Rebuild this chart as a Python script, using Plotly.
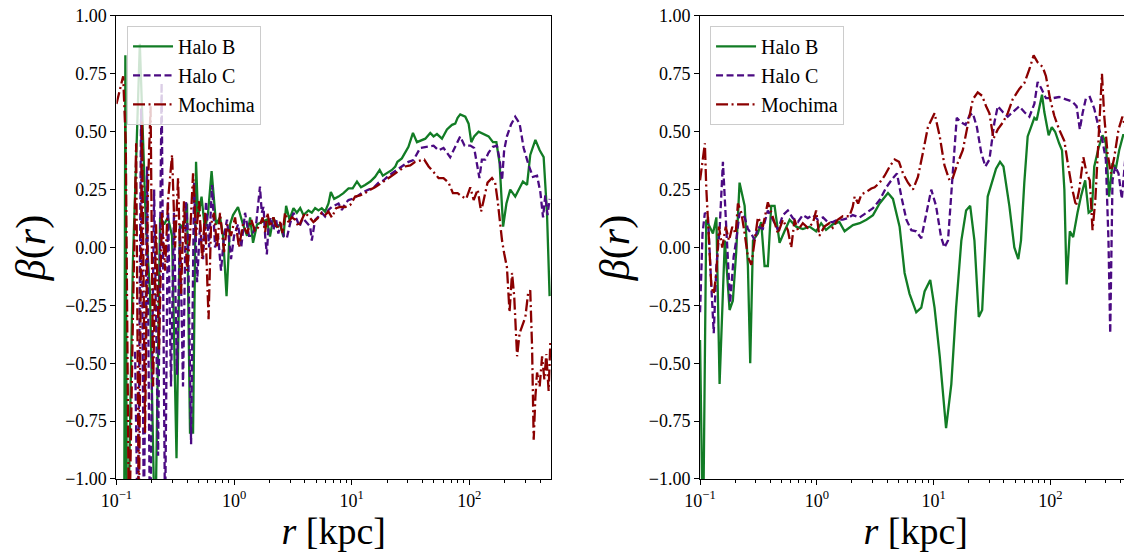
import plotly.graph_objects as go

# ---------------- left panel ----------------
left_b_r = [0.100, 0.116, 0.119, 0.123, 0.138, 0.158, 0.178, 0.193, 0.213, 0.235, 0.254, 0.274,
            0.297, 0.324, 0.347, 0.368, 0.398, 0.422, 0.448, 0.475, 0.494, 0.529, 0.566, 0.601,
            0.644, 0.703, 0.760, 0.806, 0.863, 0.924, 0.980, 1.08, 1.19, 1.29, 1.37, 1.45, 1.57,
            1.90, 2.02, 2.16, 2.31, 2.46, 2.63, 2.77, 2.96, 3.20, 3.42, 3.65, 3.89, 4.29, 4.58,
            4.89, 5.22, 5.57, 5.94, 6.35, 6.65, 7.10, 7.73, 8.51, 9.40, 10.2, 11.1, 12.0, 13.0,
            14.4, 15.8, 17.3, 18.4, 19.9, 22.0, 23.5, 24.5, 26.7, 28.5, 30.4, 33.2, 35.9,
            42.3, 46.6, 49.7, 53.1, 58.6, 64.6, 71.3, 76.0, 79.6, 83.8, 92.5, 98.7, 104, 110,
            120, 132, 146, 159, 170, 181, 194, 207, 223, 246, 263, 286, 310, 330, 365, 397,
            429, 458, 482]
left_b_beta = [-1.5, -1.5, 0.83, -1.5, -0.06, 0.88, 0.1, -0.2, -1.3, 0.13, 0.1, 0.13,
               0.05, -0.91, 0.1, 0.08, 0.19, -0.8, -0.8, 0.37, 0.13, 0.22, 0.075, 0.15,
               0.33, 0.1, 0.13, 0.05, -0.21, 0.1, 0.14, 0.175, 0.1, 0.05, 0.13, 0.02, 0.1,
               0.12, 0.047, 0.13, 0.09, 0.10, 0.045, 0.18, 0.12, 0.17, 0.15, 0.17, 0.14, 0.16, 0.15,
               0.17, 0.16, 0.17, 0.155, 0.19, 0.24, 0.21, 0.22, 0.235, 0.255, 0.255, 0.285, 0.26, 0.27,
               0.285, 0.305, 0.335, 0.31, 0.32, 0.335, 0.35, 0.37, 0.385, 0.41, 0.435, 0.495, 0.455,
               0.47, 0.495, 0.48, 0.49, 0.47, 0.51, 0.53, 0.535, 0.56, 0.575, 0.565, 0.535, 0.455, 0.48,
               0.50, 0.49, 0.48, 0.455, 0.455, 0.365, 0.09, 0.19, 0.25, 0.22, 0.25, 0.285, 0.27, 0.40,
               0.465, 0.42, 0.39, 0.15, -0.21]

left_c_r = [0.144, 0.152, 0.162, 0.171, 0.182, 0.193, 0.209, 0.226, 0.242, 0.259, 0.274, 0.291,
            0.308, 0.327, 0.347, 0.368, 0.390, 0.406, 0.431, 0.457, 0.485, 0.514, 0.545, 0.578,
            0.613, 0.650, 0.689, 0.731, 0.775, 0.822, 0.871, 0.942, 1.00, 1.08, 1.15, 1.24, 1.34,
            1.42, 1.54,
            1.66, 1.72, 1.78, 1.84, 1.90, 1.96, 2.05, 2.16, 2.28, 2.38, 2.49, 2.66, 2.81, 3.00,
            3.20, 3.42, 3.60, 3.84, 4.15, 4.44, 4.58, 4.89, 5.22, 5.57, 5.94, 6.35, 6.78, 7.24,
            7.73, 8.26, 8.82, 9.40, 10.4, 11.4, 12.6, 13.9, 15.3, 16.9, 18.7, 20.6, 22.7, 25.0,
            27.6, 30.4, 33.6,
            38.3, 43.6, 49.7, 54.8, 60.4, 68.8, 76.0, 83.8, 91.2, 102, 110, 116, 122, 128, 137,
            146, 159, 172, 181, 190, 198, 209, 226, 246, 268, 290, 320, 348, 377, 402, 424, 443,
            463, 482]
left_c_beta = [-0.45, -1.3, 0.60, -1.2, 0.35, -1.3, 0.25, -0.9, 0.71, -1.2, 0.2, -0.6,
               0.15, -0.55, 0.1, -0.6, 0.2, 0.05, -0.85, 0.28, -0.15, 0.1, -0.05, 0.2,
               0.0, 0.27, 0.0, 0.05, -0.1, 0.05, 0.12, -0.05, 0.05, 0.1, 0.0, 0.15, 0.05,
               0.05, 0.1,
               0.263, 0.15, 0.176, 0.047, -0.03, 0.09, 0.13, 0.076, 0.12, 0.06, 0.105, 0.047, 0.04, 0.105,
               0.15, 0.12, 0.09, 0.127, 0.105, 0.09, 0.03, 0.12, 0.134, 0.15, 0.134, 0.162, 0.175, 0.183,
               0.19, 0.162, 0.19, 0.205, 0.212, 0.225, 0.24, 0.25, 0.257, 0.28, 0.29, 0.31, 0.326, 0.34,
               0.355, 0.37, 0.378,
               0.43, 0.435, 0.44, 0.42, 0.43, 0.39, 0.435, 0.48, 0.44, 0.44, 0.43, 0.365, 0.30, 0.38, 0.38,
               0.41, 0.435, 0.44, 0.38, 0.29, 0.42, 0.48, 0.53, 0.565, 0.535, 0.43, 0.355, 0.305, 0.31,
               0.24, 0.13, 0.225, 0.14, 0.21]

left_m_r = [0.100, 0.109, 0.114, 0.120, 0.128, 0.138, 0.147, 0.155, 0.165, 0.175, 0.185, 0.195,
            0.205, 0.217, 0.230, 0.244, 0.259, 0.274, 0.297, 0.315, 0.334, 0.354, 0.375, 0.398,
            0.422, 0.448, 0.475, 0.504, 0.535, 0.566, 0.607, 0.637, 0.676, 0.716, 0.760, 0.822,
            0.871, 0.942, 1.02, 1.10, 1.19, 1.29, 1.40, 1.51,
            1.66, 1.75, 1.84, 1.92, 2.02, 2.16, 2.31, 2.46, 2.59, 2.71, 2.90, 3.10, 3.31, 3.53,
            3.77, 4.02, 4.38, 4.73, 5.12, 5.57, 5.94, 6.35, 6.78, 7.38, 7.98, 8.82, 9.71, 10.7,
            11.8, 13.0, 14.4, 15.8, 17.5, 19.3, 21.3, 23.5, 25.9, 28.5, 31.5, 34.7,
            41.4, 45.1, 49.7, 54.8, 60.4, 66.7, 72.6, 79.6, 86.7, 94.2, 102, 109, 118, 126, 132,
            143, 156, 166, 174, 181, 190, 198, 209, 220, 231, 241, 255, 268, 281, 300, 316, 330,
            342, 353, 365, 377, 397, 416, 435, 452, 473, 489]
left_m_beta = [0.62, 0.70, 0.74, 0.45, -1.3, -0.3, 0.45, -1.2, 0.55, -0.8, 0.25, 0.61,
               -0.6, 0.1, -0.44, 0.15, -0.1, 0.2, 0.40, 0.0, 0.3, -0.2, 0.2, -0.1,
               0.05, 0.32, 0.05, 0.2, -0.05, 0.15, -0.31, 0.1, 0.15, 0.0, 0.15, -0.02,
               0.1, 0.05, 0.13, 0.0, 0.1, 0.06, 0.12, 0.07,
               0.097, 0.13, 0.067, 0.15, 0.09, 0.13, 0.08, 0.11, 0.06, 0.15, 0.11, 0.13, 0.12, 0.09,
               0.12, 0.15, 0.13, 0.11, 0.125, 0.15, 0.14, 0.155, 0.13, 0.17, 0.175, 0.175, 0.183, 0.22,
               0.225, 0.235, 0.25, 0.26, 0.275, 0.29, 0.305, 0.32, 0.335, 0.35, 0.355, 0.37,
               0.38, 0.35, 0.326, 0.30, 0.30, 0.28, 0.235, 0.235, 0.22, 0.21, 0.26, 0.205, 0.25, 0.155, 0.20,
               0.28, 0.30, 0.28, 0.205, 0.12, 0.03, -0.025, -0.085, -0.28, -0.11, -0.21, -0.47, -0.37, -0.34,
               -0.30, -0.20, -0.185, -0.43, -0.83, -0.645, -0.54, -0.60, -0.47, -0.57, -0.46, -0.62, -0.41]

# ---------------- right panel ----------------
right_b_r = [0.100, 0.106, 0.113, 0.129, 0.138, 0.147, 0.163, 0.179, 0.191, 0.204, 0.218, 0.241,
             0.257, 0.269, 0.284, 0.313, 0.334, 0.357, 0.381, 0.407, 0.435, 0.480, 0.529, 0.585,
             0.666, 0.759, 0.866, 0.987, 1.09, 1.20, 1.37, 1.56, 1.73,
             1.80, 2.04, 2.33, 2.66, 3.03, 3.45, 4.07, 4.49, 5.12, 5.65, 6.23, 7.11, 7.85, 8.38,
             9.37, 10.2, 11.3, 12.8, 14.2, 15.6, 17.3, 19.0, 20.6, 22.4, 24.4, 26.1,
             29.1, 32.1, 34.3, 37.1, 39.7, 44.6, 49.2, 53.2, 56.1, 59.9, 64.0, 68.4, 73.0, 76.4,
             80.5, 84.9, 88.9, 96.8, 103, 110, 119, 126, 132, 138, 147, 157, 171, 183, 199, 213,
             227, 238, 259, 280, 299, 319, 341, 364, 389, 421, 458, 490]
right_b_beta = [-0.40, -1.3, 0.12, 0.06, 0.13, -0.59, 0.03, -0.27, -0.23, -0.02, 0.28, 0.18,
                -0.08, -0.50, 0.03, 0.06, 0.11, -0.08, -0.08, 0.18, 0.18, 0.02, 0.07, 0.12,
                0.09, 0.08, 0.09, 0.07, 0.105, 0.076, 0.10, 0.11, 0.07,
                0.076, 0.097, 0.105, 0.12, 0.14, 0.19, 0.235, 0.21, 0.09, -0.11, -0.2, -0.28, -0.26, -0.19,
                -0.14, -0.26, -0.47, -0.78, -0.59, -0.26, 0.03, 0.16, 0.18, 0.03, -0.30, -0.27,
                0.22, 0.29, 0.34, 0.37, 0.35, 0.18, 0.0, -0.05, 0.03, 0.28, 0.48, 0.52, 0.56, 0.55,
                0.61, 0.66, 0.585, 0.485, 0.52, 0.50, 0.45, 0.42, 0.25, -0.16, 0.07, 0.045, 0.15, 0.22,
                0.29, 0.15, 0.16, 0.35, 0.43, 0.485, 0.45, 0.22, 0.365, 0.34, 0.42, 0.485, 0.485, 0.52]

right_c_r = [0.100, 0.105, 0.110, 0.117, 0.125, 0.131, 0.138, 0.147, 0.157, 0.165, 0.173, 0.181,
             0.194, 0.204, 0.218, 0.241, 0.257, 0.275, 0.294, 0.313, 0.345, 0.381, 0.421, 0.465,
             0.512, 0.565, 0.624, 0.689, 0.759, 0.838, 0.925, 1.02, 1.13, 1.24, 1.37, 1.51, 1.67,
             1.84, 2.03,
             2.33, 2.66, 3.03, 3.45, 3.94, 4.49, 4.86, 5.30, 5.85, 6.45, 7.11, 7.85, 8.66, 9.56,
             10.5, 11.6, 12.4, 13.3, 14.6, 15.8, 17.3, 18.8, 20.3, 21.7, 23.5, 25.6, 27.8, 30.1,
             33.2, 35.5, 39.2, 43.2, 47.6, 54.3, 59.9, 66.2, 73.0, 77.9, 83.2, 91.8, 105, 119,
             136, 155, 168, 179, 189, 202, 218, 238, 259, 280, 299, 315, 326, 341, 359, 384, 410,
             438, 468, 490]
right_c_beta = [-0.28, 0.06, 0.15, 0.13, -0.17, -0.37, -0.08, 0.075, 0.37, 0.16, -0.08, -0.24,
                -0.04, 0.03, 0.15, 0.13, 0.08, 0.06, 0.03, 0.09, 0.08, 0.16, 0.12, 0.076,
                0.14, 0.16, 0.127, 0.11, 0.14, 0.127, 0.14, 0.12, 0.13, 0.11, 0.11, 0.12, 0.12,
                0.127, 0.14,
                0.13, 0.15, 0.17, 0.205, 0.26, 0.30, 0.32, 0.22, 0.12, 0.075, 0.07, 0.04, 0.15, 0.25,
                0.18, 0.045, 0.0, 0.03, 0.32, 0.56, 0.54, 0.53, 0.57, 0.58, 0.52, 0.41, 0.35, 0.38,
                0.54, 0.61, 0.585, 0.565, 0.585, 0.61, 0.585, 0.565, 0.62, 0.715, 0.69, 0.645, 0.645, 0.65,
                0.64, 0.63, 0.61, 0.51, 0.58, 0.645, 0.65, 0.60, 0.52, 0.46, 0.38, 0.03, -0.37, 0.29, 0.35,
                0.32, 0.21, 0.38, 0.49, 0.50]

right_m_r = [0.100, 0.105, 0.110, 0.113, 0.119, 0.125, 0.131, 0.138, 0.145, 0.155, 0.166, 0.177,
             0.189, 0.202, 0.211, 0.226, 0.241, 0.257, 0.275, 0.294, 0.313, 0.345, 0.381, 0.421,
             0.465, 0.512, 0.565, 0.604, 0.645, 0.689, 0.759, 0.838, 0.925, 0.987, 1.05, 1.16,
             1.28, 1.37, 1.51, 1.67, 1.90, 2.03,
             2.11, 2.26, 2.41, 2.66, 2.93, 3.13, 3.45, 3.81, 4.21, 4.64, 5.06, 5.47, 6.04, 6.66,
             7.35, 8.11, 8.95, 10.2, 11.3, 12.4, 13.7, 14.6, 16.1, 17.8, 19.7, 21.7, 23.9, 26.1,
             28.2, 30.1,
             32.6, 35.5, 39.2, 43.2, 47.6, 54.3, 59.9, 66.2, 72.0, 77.9, 86.0, 91.8, 99.3, 108,
             119, 132, 141, 153, 166, 177, 192, 205, 218, 230, 243, 259, 277, 290, 309, 330, 352,
             384, 415, 443, 468, 490]
right_m_beta = [0.29, 0.38, 0.45, 0.26, 0.06, -0.17, -0.20, -0.11, 0.09, 0.0, 0.09, 0.03,
                0.09, 0.06, 0.19, 0.15, 0.06, -0.04, -0.075, 0.03, 0.13, 0.09, 0.195, 0.13,
                0.06, 0.12, 0.075, 0.0, 0.12, 0.075, 0.105, 0.085, 0.105, 0.16, 0.05, 0.09,
                0.105, 0.085, 0.12, 0.135, 0.135, 0.175,
                0.22, 0.19, 0.23, 0.24, 0.255, 0.26, 0.28, 0.31, 0.35, 0.38, 0.37, 0.32, 0.28, 0.25,
                0.305, 0.41, 0.52, 0.58, 0.48, 0.355, 0.29, 0.30, 0.365, 0.42, 0.54, 0.64, 0.67, 0.655,
                0.61, 0.58,
                0.47, 0.51, 0.54, 0.58, 0.64, 0.685, 0.71, 0.77, 0.83, 0.80, 0.78, 0.74, 0.645, 0.57,
                0.51, 0.46, 0.365, 0.26, 0.18, 0.25, 0.39, 0.32, 0.29, 0.075, 0.205, 0.45, 0.75, 0.565,
                0.41, 0.32, 0.385, 0.51, 0.565, 0.51, 0.55, 0.665]

# ---------------- axis ticks ----------------
x_major = [0.1, 1, 10, 100]
x_major_text = ["10<sup>\u22121</sup>", "10<sup>0</sup>", "10<sup>1</sup>", "10<sup>2</sup>"]
x_minor = [0.2, 0.3, 0.4, 0.5, 0.6, 0.7, 0.8, 0.9, 2, 3, 4, 5, 6, 7, 8, 9,
           20, 30, 40, 50, 60, 70, 80, 90, 200, 300, 400, 500]
y_ticks = [-1.0, -0.75, -0.5, -0.25, 0.0, 0.25, 0.5, 0.75, 1.0]
y_tick_text = ["\u22121.00", "\u22120.75", "\u22120.50", "\u22120.25", "0.00",
               "0.25", "0.50", "0.75", "1.00"]

FONT = "Liberation Serif"
GREEN = "#127c25"
PURPLE = "#4b0a82"
RED = "#8b0000"
DASH_C = "7px,3.5px"
DASH_M = "12px,3.5px,2px,3.5px"

fig = go.Figure()

panels = [
    ("x", "y", "legend", left_b_r, left_b_beta, left_c_r, left_c_beta, left_m_r, left_m_beta),
    ("x2", "y2", "legend2", right_b_r, right_b_beta, right_c_r, right_c_beta, right_m_r, right_m_beta),
]
for xa, ya, leg, br, bb, cr, cb, mr, mb in panels:
    fig.add_trace(go.Scatter(x=br, y=bb, mode="lines", name="Halo B", xaxis=xa, yaxis=ya,
                             legend=leg, line=dict(color=GREEN, width=2.3)))
    fig.add_trace(go.Scatter(x=cr, y=cb, mode="lines", name="Halo C", xaxis=xa, yaxis=ya,
                             legend=leg, line=dict(color=PURPLE, width=2.3, dash=DASH_C)))
    fig.add_trace(go.Scatter(x=mr, y=mb, mode="lines", name="Mochima", xaxis=xa, yaxis=ya,
                             legend=leg, line=dict(color=RED, width=2.3, dash=DASH_M)))


def x_axis(domain, anchor):
    return dict(
        type="log", domain=domain, anchor=anchor, range=[-1, 2.695],
        tickmode="array", tickvals=x_major, ticktext=x_major_text,
        ticks="outside", ticklen=5, tickwidth=1, tickcolor="black",
        minor=dict(tickmode="array", tickvals=x_minor, ticks="outside", ticklen=3,
                   tickwidth=0.8, tickcolor="black"),
        showline=True, linecolor="black", linewidth=1, mirror=True,
        showgrid=False, zeroline=False, automargin=False, ticklabeloverflow="allow",
        tickfont=dict(family=FONT, size=18, color="black"),
        title=dict(text="<i>r</i> [kpc]", font=dict(family=FONT, size=38, color="black"),
                   standoff=4),
    )


def y_axis(domain, anchor):
    return dict(
        domain=domain, anchor=anchor, range=[-1, 1],
        tickmode="array", tickvals=y_ticks, ticktext=y_tick_text,
        ticks="outside", ticklen=5, tickwidth=1, tickcolor="black",
        showline=True, linecolor="black", linewidth=1, mirror=True,
        showgrid=False, zeroline=False, automargin=False, ticklabeloverflow="allow",
        tickfont=dict(family=FONT, size=18, color="black"),
        title=dict(text="<i>\u03b2</i>(<i>r</i>)", font=dict(family=FONT, size=42, color="black"),
                   standoff=6),
    )


def legend_box(x):
    return dict(
        x=x, y=0.967, xanchor="left", yanchor="top",
        bgcolor="rgba(255,255,255,0.8)", bordercolor="#cccccc", borderwidth=1,
        font=dict(family=FONT, size=20, color="black"),
        itemwidth=40, tracegroupgap=0,
    )


# the page body has an 8px margin, so the figure is laid out 8px in from the window corner
fig.update_layout(
    width=1124, height=544,
    margin=dict(l=0, r=0, t=0, b=0),
    paper_bgcolor="white", plot_bgcolor="white",
    showlegend=True,
    xaxis=x_axis([0.0965, 0.4831], "y"),
    yaxis=y_axis([0.1342, 0.9853], "x"),
    xaxis2=x_axis([0.6157, 0.9995], "y2"),
    yaxis2=y_axis([0.1342, 0.9853], "x2"),
    legend=legend_box(0.1059),
    legend2=legend_box(0.6246),
)

fig.write_html("out.html")
